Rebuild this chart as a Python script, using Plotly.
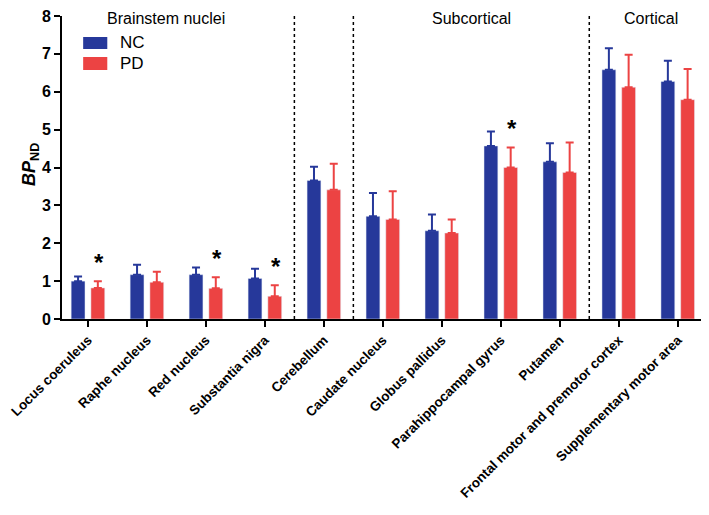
import plotly.graph_objects as go

regions = ["Locus coeruleus", "Raphe nucleus", "Red nucleus", "Substantia nigra",
           "Cerebellum", "Caudate nucleus", "Globus pallidus", "Parahippocampal gyrus",
           "Putamen", "Frontal motor and premotor cortex", "Supplementary motor area"]
nc_mean = [1.00, 1.17, 1.17, 1.07, 3.66, 2.71, 2.33, 4.57, 4.15, 6.58, 6.27]
nc_sd = [0.12, 0.26, 0.19, 0.26, 0.36, 0.62, 0.43, 0.38, 0.49, 0.57, 0.55]
pd_mean = [0.82, 0.97, 0.81, 0.60, 3.41, 2.63, 2.27, 4.00, 3.87, 6.12, 5.79]
pd_sd = [0.18, 0.28, 0.29, 0.29, 0.69, 0.74, 0.36, 0.53, 0.79, 0.86, 0.81]
significant = [0, 2, 3, 7]
group_names = ["Brainstem nuclei", "Subcortical", "Cortical"]
group_centers = [1.32, 6.5, 9.54]
dividers = [3.5, 4.5, 8.5]
series_names = ["NC", "PD"]

NC_COLOR = "#26389A"
PD_COLOR = "#EC4343"
FONT = "Liberation Sans, Arial, sans-serif"

fig = go.Figure()
fig.add_trace(go.Bar(
    x=regions, y=nc_mean, name=series_names[0], marker_color=NC_COLOR,
    error_y=dict(type="data", symmetric=False, array=nc_sd, arrayminus=[0]*len(nc_sd),
                 color=NC_COLOR, thickness=2, width=4)))
fig.add_trace(go.Bar(
    x=regions, y=pd_mean, name=series_names[1], marker_color=PD_COLOR,
    error_y=dict(type="data", symmetric=False, array=pd_sd, arrayminus=[0]*len(pd_sd),
                 color=PD_COLOR, thickness=2, width=4)))

for d in dividers:
    fig.add_shape(type="line", xref="x", yref="paper", x0=d, x1=d, y0=0, y1=1,
                  line=dict(color="black", width=1.5, dash="dot"))

for name, c in zip(group_names, group_centers):
    fig.add_annotation(x=c, y=8.0, xref="x", yref="y", text=name, showarrow=False,
                       yanchor="middle", yshift=-2,
                       font=dict(family=FONT, size=16, color="black"))

for i in significant:
    fig.add_annotation(x=i + 0.19, y=pd_mean[i] + pd_sd[i], xref="x", yref="y", text="<b>*</b>",
                       showarrow=False, yanchor="bottom", yshift=3,
                       font=dict(family=FONT, size=24, color="black"))

# legend drawn as wide swatches + text (matching the reference)
T, PH = 8, 303  # top margin, plot height (px)
def paper_y(fy):
    return 1 - (fy - T) / PH

legend_rows = [(29, 41, 35, NC_COLOR), (49, 62, 55.5, PD_COLOR)]
for name, (ftop, fbot, fmid, col) in zip(series_names, legend_rows):
    fig.add_shape(type="rect", xref="paper", yref="paper", x0=0.0327, x1=0.070,
                  y0=paper_y(fbot), y1=paper_y(ftop), fillcolor=col, line=dict(width=0))
    fig.add_annotation(x=0.087, y=paper_y(fmid), xref="paper", yref="paper", text=name,
                       showarrow=False, xanchor="left", yanchor="middle",
                       font=dict(family=FONT, size=17, color="black"))

# y-axis title
fig.add_annotation(x=-0.0495, y=paper_y(156), xref="paper", yref="paper",
                   text="<b><i>BP</i><sub>ND</sub></b>", textangle=-90, showarrow=False,
                   xanchor="center", yanchor="middle",
                   font=dict(family=FONT, size=18, color="black"))

fig.update_layout(
    width=701, height=507,
    margin=dict(l=54, r=0, t=T, b=196),
    plot_bgcolor="white", paper_bgcolor="white",
    barmode="group", bargap=0.33, bargroupgap=0.3,
    showlegend=False,
    font=dict(family=FONT, color="black"),
)
fig.update_xaxes(
    range=[-0.44, 10.53], showline=True, linecolor="black", linewidth=2,
    ticks="outside", ticklen=6, tickwidth=2, tickcolor="black", automargin=False,
    tickangle=-45, tickfont=dict(family=FONT, size=13.5, color="black"),
    tickprefix="<b>", ticksuffix="</b>", showgrid=False, zeroline=False)
fig.update_yaxes(
    range=[0, 8], dtick=1, showline=True, linecolor="black", linewidth=2,
    ticks="outside", ticklen=6, tickwidth=2, tickcolor="black", automargin=False,
    tickfont=dict(family=FONT, size=16, color="black"), ticklabeloverflow="allow",
    tickprefix="<b>", ticksuffix="</b>", showgrid=False, zeroline=False)

fig.write_html("out.html")
